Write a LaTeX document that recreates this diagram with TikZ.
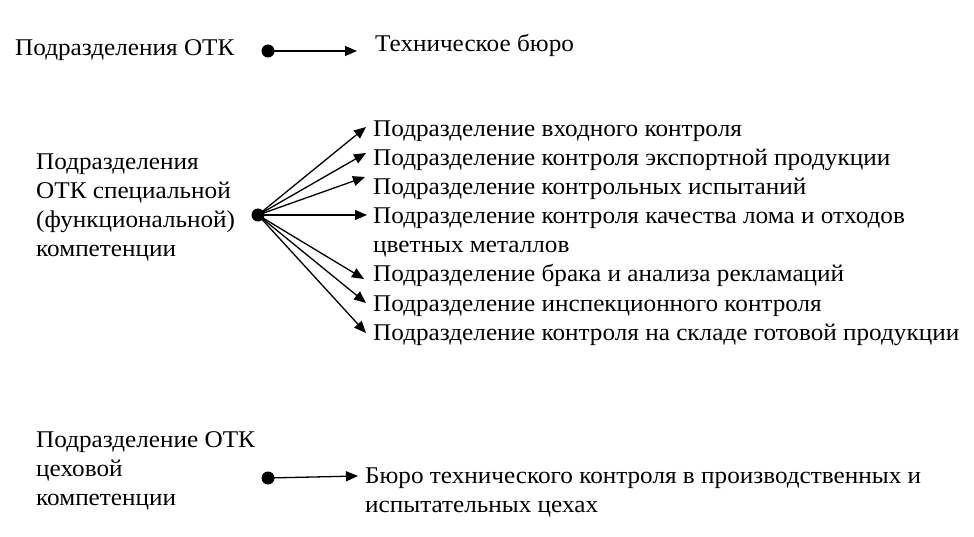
\documentclass[tikz,border=0pt]{standalone}
\usepackage{fontspec}
\setmainfont{Liberation Serif}[FakeStretch=1.05]
\usetikzlibrary{arrows.meta}
\begin{document}
\begin{tikzpicture}[x=1pt,y=-1pt,
  txt/.style={anchor=base west,inner sep=0pt,align=left,font=\fontsize{24}{29}\selectfont},
  dotnode/.style={circle,fill=black,inner sep=0pt,minimum size=13pt},
  arr/.style={line width=1.3pt,-{Triangle[length=12pt,width=10pt]}}]
\useasboundingbox (0,0) rectangle (974,537);
% top
\node[txt] (l1) at (15,56) {Подразделения ОТК};
\node[dotnode] (d1) at (268,51) {};
\coordinate (t1) at (357,51);
\node[txt] (r1) at (375,52) {Техническое бюро};
\draw[arr] (d1.center) -- (t1);
% middle (multi-line nodes are placed by their last baseline)
\node[txt] (l2) at (36,257) {Подразделения\\ОТК специальной\\(функциональной)\\компетенции};
\node[dotnode] (d2) at (258,215) {};
\node[txt] (m1) at (373,137) {Подразделение входного контроля};
\node[txt] (m2) at (373,166) {Подразделение контроля экспортной продукции};
\node[txt] (m3) at (373,195) {Подразделение контрольных испытаний};
\node[txt] (m4) at (373,253) {Подразделение контроля качества лома и отходов\\цветных металлов};
\node[txt] (m5) at (373,282) {Подразделение брака и анализа рекламаций};
\node[txt] (m6) at (373,311) {Подразделение инспекционного контроля};
\node[txt] (m7) at (373,340) {Подразделение контроля на складе готовой продукции};
\coordinate (a1) at (366,127);
\coordinate (a2) at (366,153);
\coordinate (a3) at (365,177);
\coordinate (a4) at (367,215);
\coordinate (a5) at (364,279);
\coordinate (a6) at (366,303);
\coordinate (a7) at (366,333);
\foreach \i in {1,...,7} {\draw[arr] (d2.center) -- (a\i);}
% bottom
\node[txt] (l3) at (36,505) {Подразделение ОТК\\цеховой\\компетенции};
\node[dotnode] (d3) at (268,478) {};
\coordinate (t3) at (358,476);
\node[txt] (r3) at (365,512) {Бюро технического контроля в производственных и\\испытательных цехах};
\draw[arr] (d3.center) -- (t3);
\end{tikzpicture}
\end{document}
